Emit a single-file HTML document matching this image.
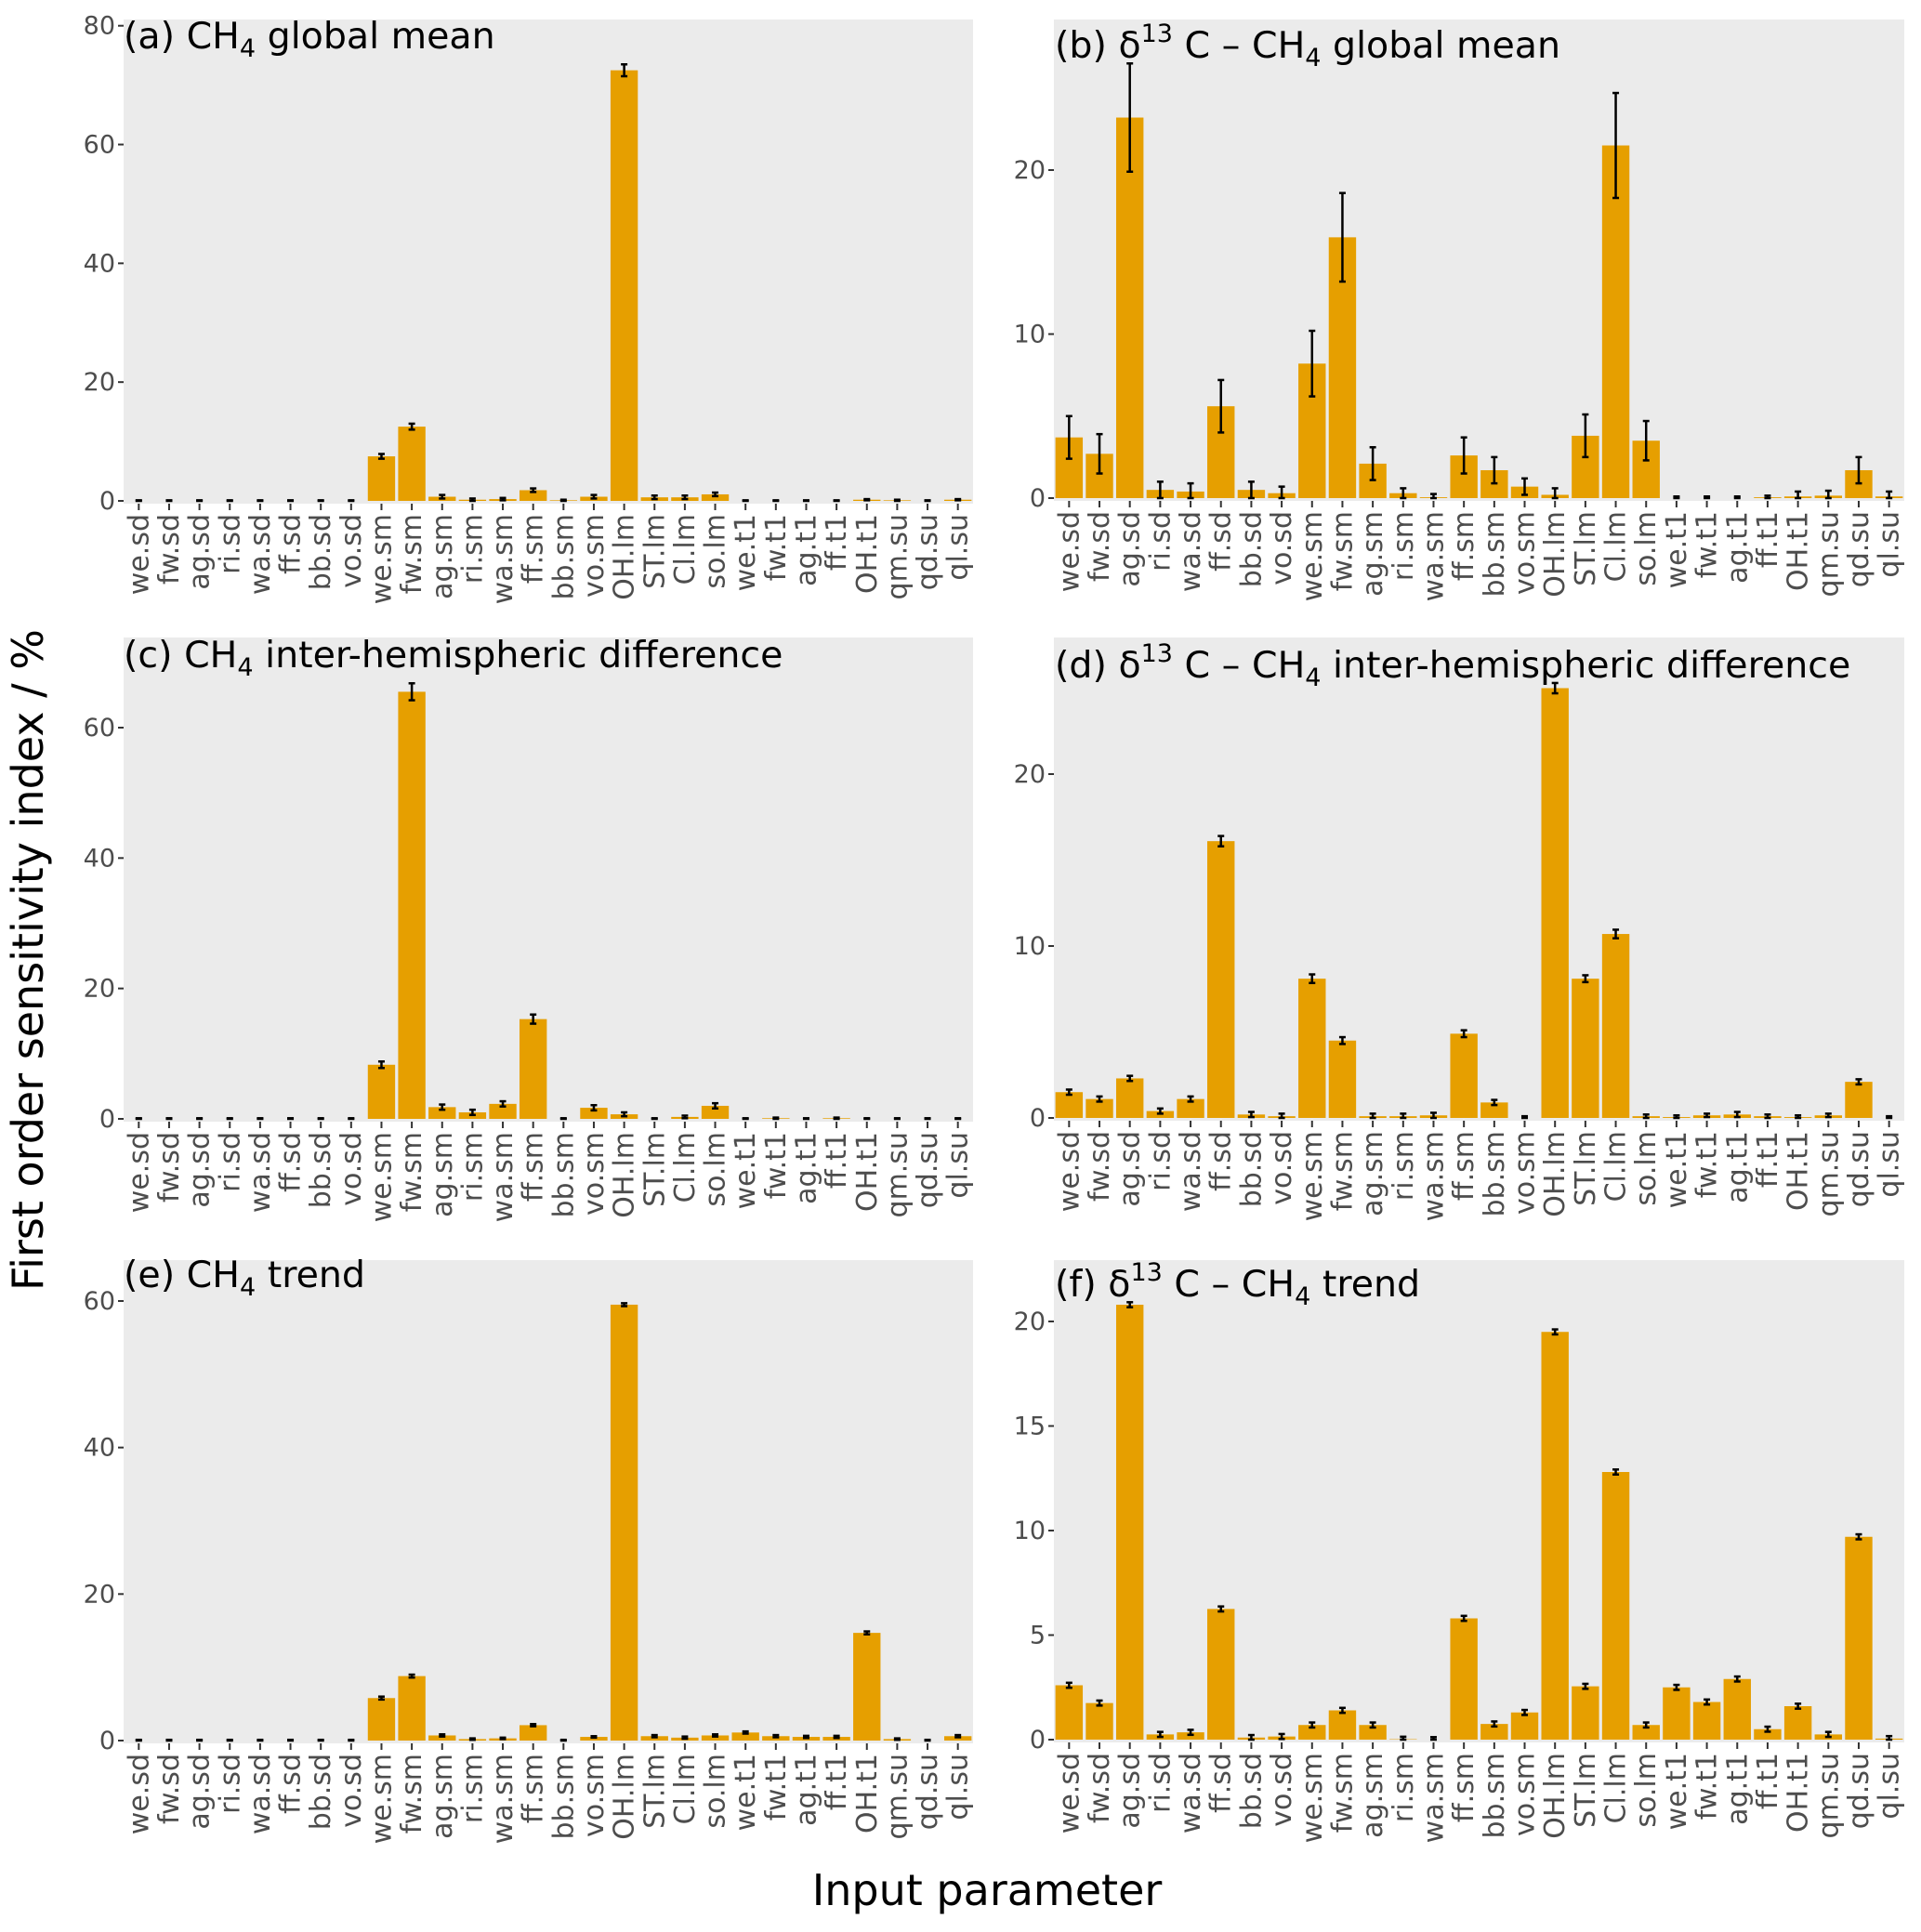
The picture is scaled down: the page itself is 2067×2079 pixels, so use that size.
<!DOCTYPE html>
<html><head><meta charset="utf-8"><style>
html,body{margin:0;padding:0;background:#fff;}
svg{display:block;font-family:"DejaVu Sans","Liberation Sans",sans-serif;}
</style></head><body>
<svg id="fig" width="2067" height="2079" viewBox="0 0 2067 2079" xmlns="http://www.w3.org/2000/svg">
<text x="46" y="1033" transform="rotate(-90 46 1033)" text-anchor="middle" font-size="46" fill="#000">First order sensitivity index / %</text>
<text x="1062" y="2050" text-anchor="middle" font-size="46" fill="#000">Input parameter</text>
</svg>
<script>
const categories = ["we.sd","fw.sd","ag.sd","ri.sd","wa.sd","ff.sd","bb.sd","vo.sd","we.sm","fw.sm","ag.sm","ri.sm","wa.sm","ff.sm","bb.sm","vo.sm","OH.lm","ST.lm","Cl.lm","so.lm","we.t1","fw.t1","ag.t1","ff.t1","OH.t1","qm.su","qd.su","ql.su"];
const valuesA = [0,0,0,0,0,0,0,0,7.5,12.5,0.7,0.2,0.3,1.8,0.1,0.7,72.5,0.6,0.6,1.1,0,0,0,0,0.2,0.1,0,0.2];
const errA    = [0.1,0.1,0.1,0.1,0.1,0.1,0.1,0.1,0.4,0.5,0.3,0.2,0.2,0.3,0.1,0.3,1.0,0.3,0.3,0.3,0.1,0.1,0.1,0.1,0.1,0.1,0.1,0.1];
const valuesB = [3.7,2.7,23.2,0.5,0.4,5.6,0.5,0.3,8.2,15.9,2.1,0.3,0.05,2.6,1.7,0.7,0.2,3.8,21.5,3.5,0,0,0,0.05,0.1,0.15,1.7,0.1];
const errB    = [1.3,1.2,3.3,0.5,0.5,1.6,0.5,0.4,2.0,2.7,1.0,0.3,0.2,1.1,0.8,0.5,0.4,1.3,3.2,1.2,0.1,0.1,0.1,0.1,0.3,0.3,0.8,0.3];
const valuesC = [0,0,0,0,0,0,0,0,8.3,65.5,1.8,1.0,2.3,15.3,0,1.7,0.7,0,0.3,2.0,0,0.1,0,0.1,0,0,0,0];
const errC    = [0.1,0.1,0.1,0.1,0.1,0.1,0.1,0.1,0.5,1.3,0.4,0.4,0.4,0.7,0.1,0.4,0.3,0.1,0.2,0.4,0.1,0.1,0.1,0.1,0.1,0.1,0.1,0.1];
const valuesD = [1.5,1.1,2.3,0.4,1.1,16.1,0.2,0.1,8.1,4.5,0.1,0.1,0.15,4.9,0.9,0,25.0,8.1,10.7,0.1,0.05,0.15,0.2,0.1,0.05,0.15,2.1,0];
const errD    = [0.15,0.15,0.15,0.15,0.15,0.3,0.15,0.15,0.25,0.2,0.15,0.15,0.15,0.2,0.15,0.1,0.3,0.2,0.25,0.1,0.1,0.1,0.15,0.1,0.1,0.1,0.15,0.1];
const valuesE = [0,0,0,0,0,0,0,0,5.8,8.8,0.7,0.2,0.3,2.1,0,0.5,59.5,0.6,0.4,0.7,1.1,0.6,0.5,0.5,14.7,0.2,0,0.6];
const errE    = [0.1,0.1,0.1,0.1,0.1,0.1,0.1,0.1,0.2,0.2,0.15,0.1,0.1,0.15,0.1,0.1,0.2,0.15,0.15,0.15,0.15,0.15,0.15,0.15,0.2,0.1,0.1,0.15];
const valuesF = [2.6,1.75,20.8,0.25,0.35,6.25,0.1,0.15,0.7,1.4,0.7,0.02,0,5.8,0.75,1.3,19.5,2.55,12.8,0.7,2.5,1.8,2.9,0.5,1.6,0.25,9.7,0.05];
const errF    = [0.12,0.12,0.12,0.12,0.12,0.12,0.12,0.12,0.12,0.12,0.12,0.12,0.12,0.12,0.12,0.12,0.12,0.12,0.12,0.12,0.12,0.12,0.12,0.12,0.12,0.12,0.12,0.12];
const ticksA = [0,20,40,60,80];
const ticksB = [0,10,20];
const ticksC = [0,20,40,60];
const ticksD = [0,10,20];
const ticksE = [0,20,40,60];
const ticksF = [0,5,10,15,20];

const NS = "http://www.w3.org/2000/svg";
const svg = document.getElementById('fig');
function mk(tag, attrs, parent){const e=document.createElementNS(NS,tag);for(const k in attrs)e.setAttribute(k,attrs[k]);(parent||svg).appendChild(e);return e;}

const panels = [
 {id:'a', vals:valuesA, errs:errA, ticks:ticksA, x0:133, x1:1047, top:21, zero:539, rv:80, rp:27.7, tx:133, ty:52, title:[['(a) CH',0],['4',1],[' global mean',0]]},
 {id:'b', vals:valuesB, errs:errB, ticks:ticksB, x0:1134, x1:2049, top:21, zero:536, rv:20, rp:183, tx:1135, ty:62, title:[['(b) δ',0],['13',2],[' C – CH',0],['4',1],[' global mean',0]]},
 {id:'c', vals:valuesC, errs:errC, ticks:ticksC, x0:133, x1:1047, top:686, zero:1204, rv:60, rp:783, tx:133, ty:718, title:[['(c) CH',0],['4',1],[' inter-hemispheric difference',0]]},
 {id:'d', vals:valuesD, errs:errD, ticks:ticksD, x0:1134, x1:2049, top:686, zero:1203, rv:20, rp:833, tx:1135, ty:729, title:[['(d) δ',0],['13',2],[' C – CH',0],['4',1],[' inter-hemispheric difference',0]]},
 {id:'e', vals:valuesE, errs:errE, ticks:ticksE, x0:133, x1:1047, top:1356, zero:1873, rv:60, rp:1400, tx:133, ty:1385, title:[['(e) CH',0],['4',1],[' trend',0]]},
 {id:'f', vals:valuesF, errs:errF, ticks:ticksF, x0:1134, x1:2049, top:1356, zero:1872, rv:20, rp:1422, tx:1135, ty:1395, title:[['(f) δ',0],['13',2],[' C – CH',0],['4',1],[' trend',0]]}
];

panels.forEach(p=>{
  const g = mk('g',{});
  
  
  const bg = mk('rect',{x:p.x0,y:p.top,width:p.x1-p.x0,height:p.zero-p.top+3,fill:'#EBEBEB'},g);
  
  
  const scale = (p.zero-p.rp)/p.rv;
  const y = v => p.zero - v*scale;
  const n = categories.length;
  const slot = (p.x1-p.x0)/n;
  const xc = i => p.x0 + slot*(i+0.5);
  p.ticks.forEach(t=>{
    const tl = mk('line',{x1:p.x0-6,x2:p.x0,y1:y(t),y2:y(t),stroke:'#333','stroke-width':2},g);
    
    
    const tt = mk('text',{x:p.x0-9,y:y(t)+9,'text-anchor':'end','font-size':27,fill:'#4D4D4D'},g);
    
    
    tt.textContent = t;
  });
  p.vals.forEach((v,i)=>{
    const bw = slot*0.9;
    const r = mk('rect',{x:xc(i)-bw/2,y:y(v),width:bw,height:Math.max(0,v*scale),fill:'#E69F00'},g);
    
    
    const e = p.errs[i];
    const lo = Math.max(v-e,0), hi = v+e;
    const eg = mk('g',{stroke:'#000','stroke-width':2.5},g);
    
    
    mk('line',{x1:xc(i),x2:xc(i),y1:y(lo),y2:y(hi)},eg);
    mk('line',{x1:xc(i)-3.5,x2:xc(i)+3.5,y1:y(lo),y2:y(lo)},eg);
    mk('line',{x1:xc(i)-3.5,x2:xc(i)+3.5,y1:y(hi),y2:y(hi)},eg);
    const xt = mk('line',{x1:xc(i),x2:xc(i),y1:p.zero+3,y2:p.zero+10,stroke:'#333','stroke-width':2},g);
    
    
    const lx = xc(i)+10, ly = p.zero+14;
    const lt = mk('text',{x:lx,y:ly,transform:`rotate(-90 ${lx} ${ly})`,'text-anchor':'end','font-size':30,fill:'#4D4D4D'},g);
    
    
    lt.textContent = categories[i];
  });
  const tt = mk('text',{x:p.tx,y:p.ty,'font-size':39.5,fill:'#000'},g);
  
  
  let shift = 0;
  p.title.forEach(([s,k])=>{
    const ts = mk('tspan',{},tt);
    const target = k===1 ? 9 : (k===2 ? -17 : 0);
    const dy = target - shift;
    if(dy!==0) ts.setAttribute('dy', dy);
    shift = target;
    if(k) ts.setAttribute('font-size','27');
    ts.textContent = s;
  });
});
</script>
</body></html>
